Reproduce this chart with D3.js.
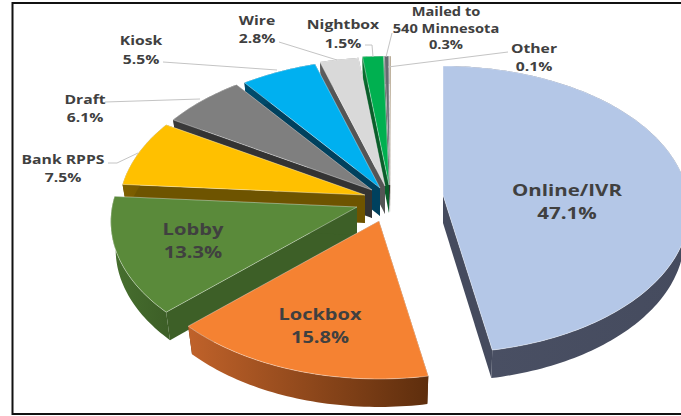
<!DOCTYPE html>
<html><head><meta charset="utf-8">
<script src="https://cdn.jsdelivr.net/npm/d3@7"></script>
<style>html,body{margin:0;padding:0;background:#fff;overflow:hidden}svg{display:block}text{font-family:"Open Sans",sans-serif;font-weight:700;fill:#404040;text-anchor:middle;dominant-baseline:central}</style>
</head><body><svg id="c" width="681" height="416"></svg>
<script>
const categories = ["Online/IVR","Lockbox","Lobby","Bank RPPS","Draft","Kiosk","Wire","Nightbox","Mailed to 540 Minnesota","Other"];
const shares = [47.1,15.8,13.3,7.5,6.1,5.5,2.8,1.5,0.3,0.1];
const labelLines = [["Online/IVR"],["Lockbox"],["Lobby"],["Bank RPPS"],["Draft"],["Kiosk"],["Wire"],["Nightbox"],["Mailed to","540 Minnesota"],["Other"]];
const topColors = ["#b4c7e7","#f58232","#5a8a3a","#ffc000","#7f7f7f","#00b0f0","#d9d9d9","#00b050","#666a70","#a8977c"];
const wallFrom = ["#4a5064","#c0622a","#47702f","#7f6000","#3a3a3a","#004d6e","#5c5c5c","#0a6e30","#3a3a3a","#6b5b45"];
const wallTo = ["#454b5e","#5e2e0d","#3d5f27","#6e5400","#333333","#00415e","#555555","#0a5e2a","#333333","#5e5040"];
// exploded-slice layout, in pixels from the pie centre
const shiftX = [54,-10,-32,-24,-17,-9,-4,0,1,2];
const shiftY = [8,34,20,8,3,1,-1,-2,-2,-2];
// label layout
const labelX = [567,320,193,63,85,141,257,343,446,534];
const labelY = [189,313,228,159,99,40,20,24,12,48];
const labelSize = [16.8,16.8,16.8,13,13,13,13,13,12,13];
const labelStretch = [1.22,1.19,1.2,1.21,1.21,1.21,1.21,1.21,1.22,1.21];
const labelStep = [23,23,23,18,18,19,18,19,16.5,18];
const leaderPaths = [null,null,null,
 [[108,163],[117,163],[138,153]],
 [[105,102],[200,99]],
 [[163,62],[277,70]],
 [[279,42],[337,60]],
 [[365,45],[372,45],[373,57]],
 [[392,33],[386,57]],
 [[508,52],[388,67]]];

const svg = d3.select("#c");
const defs = svg.append("defs");
const cx = 389, cy = 187, rx = 245, ry = 142, k = 0.101, depth = 28, lowerScale = 0.98;

function project(angle, r, lower){
  const u = r*Math.sin(angle), v = -r*Math.cos(angle), p = 1/(1-k*v);
  const X = rx*u*p*(lower?lowerScale:1), Y = ry*v*p + (lower?depth:0);
  return [X,Y];
}
const line = d3.line();
const pie = d3.pie().sort(null).value(d=>d);
const arcs = pie(shares);

function rim(a0,a1,lower){
  const n = Math.max(2,Math.ceil((a1-a0)/0.02));
  return d3.range(n+1).map(i=>project(a0+(a1-a0)*i/n,1,lower));
}
function radial(a){ return [project(a,0,false),project(a,1,false),project(a,1,true),project(a,0,true)]; }

const drawOrder = [9,8,7,6,5,4,3,2,1,0];
drawOrder.forEach(i=>{
  const a = arcs[i];
  const g = svg.append("g").attr("transform",`translate(${cx+shiftX[i]},${cy+shiftY[i]})`);
  const gid = "wall"+i;
  const outerTop = rim(a.startAngle,a.endAngle,false);
  const outerLow = rim(a.startAngle,a.endAngle,true);
  const ext = d3.extent(outerTop,d=>d[0]);
  const gr = defs.append("linearGradient").attr("id",gid).attr("gradientUnits","userSpaceOnUse")
    .attr("x1",ext[0]).attr("x2",ext[1]).attr("y1",0).attr("y2",0);
  gr.append("stop").attr("offset",0).attr("stop-color",wallFrom[i]);
  gr.append("stop").attr("offset",1).attr("stop-color",wallTo[i]);
  g.append("path").attr("d",line(radial(a.startAngle))+"Z").attr("fill",wallTo[i]);
  g.append("path").attr("d",line(radial(a.endAngle))+"Z").attr("fill",wallTo[i]);
  g.append("path").attr("d",line(outerTop.concat(outerLow.slice().reverse()))+"Z").attr("fill",`url(#${gid})`);
  g.append("path").attr("d",line([project(0,0,false)].concat(outerTop))+"Z")
    .attr("fill",topColors[i]).attr("stroke","#ffffff").attr("stroke-opacity",0.55).attr("stroke-width",0.7).attr("stroke-linejoin","round");
});

// leader lines
leaderPaths.forEach(p=>{
  if(p) svg.append("path").attr("d",line(p)).attr("fill","none").attr("stroke","#c4c4c4").attr("stroke-width",1);
});

// labels
categories.forEach((c,i)=>{
  const rows = labelLines[i].concat([d3.format(".1f")(shares[i])+"%"]);
  rows.forEach((t,j)=>{
    svg.append("text")
      .attr("transform",`translate(${labelX[i]},${labelY[i]+j*labelStep[i]}) scale(${labelStretch[i]},1)`)
      .attr("font-size",labelSize[i]).text(t);
  });
});

// frame
svg.append("rect").attr("x",12.5).attr("y",3).attr("width",720).attr("height",411)
  .attr("fill","none").attr("stroke","#111").attr("stroke-width",2);
</script></body></html>
